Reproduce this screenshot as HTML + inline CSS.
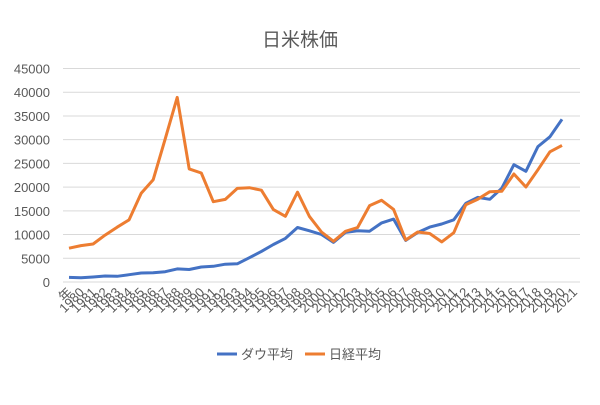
<!DOCTYPE html>
<html><head><meta charset="utf-8"><style>
body{margin:0;background:#fff;}
svg text{font-family:"Liberation Sans","Noto Sans CJK JP",sans-serif;fill:#595959;}
</style></head><body>
<svg width="600" height="400" xmlns="http://www.w3.org/2000/svg">
<rect width="600" height="400" fill="#fff"/>
<text x="300" y="46" font-size="19" text-anchor="middle">日米株価</text>
<g id="grid" stroke="#d9d9d9" stroke-width="1"></g>
<g id="yl" font-size="13"></g>
<g id="xl" font-size="13"></g>
<polyline id="dow" fill="none" stroke="#4472c4" stroke-width="3" stroke-linejoin="round"/>
<polyline id="nk" fill="none" stroke="#ed7d31" stroke-width="3" stroke-linejoin="round"/>
<line x1="217" y1="354" x2="237" y2="354" stroke="#4472c4" stroke-width="3"/>
<text x="241" y="359" font-size="13">ダウ平均</text>
<line x1="305" y1="354" x2="325" y2="354" stroke="#ed7d31" stroke-width="3"/>
<text x="329" y="359" font-size="13">日経平均</text>
</svg>
<script>
var ns="http://www.w3.org/2000/svg";
function el(t,a,p,txt){var e=document.createElementNS(ns,t);for(var k in a)e.setAttribute(k,a[k]);if(txt)e.textContent=txt;document.getElementById(p).appendChild(e);}
var y0=282,st=23.72,x0=63,x1=580,n=43,w=(x1-x0)/n;
for(var i=0;i<=9;i++){var y=y0-i*st;el('line',{x1:x0,x2:x1,y1:y,y2:y},'grid');el('text',{x:50,y:y+5,'text-anchor':'end'},'yl',String(i*5000));}
var labs=['年'];for(var yr=1980;yr<=2021;yr++)labs.push(String(yr));
labs.forEach(function(l,i){var x=x0+w*(i+0.5)+4,y=293;el('text',{x:x,y:y,'text-anchor':'end',transform:'rotate(-45 '+x+' '+y+')'},'xl',l);});
var dow=[964,875,1047,1259,1212,1547,1896,1939,2169,2753,2634,3169,3301,3754,3834,5117,6448,7908,9181,11497,10787,10022,8342,10454,10783,10718,12463,13265,8776,10428,11578,12218,13104,16577,17823,17425,19763,24719,23327,28538,30606,34300];
var nk=[7116,7682,8017,9894,11543,13113,18701,21564,30159,38916,23849,22984,16925,17417,19723,19868,19361,15259,13842,18934,13786,10543,8579,10677,11489,16111,17226,15308,8860,10546,10229,8455,10395,16291,17451,19034,19114,22765,20015,23657,27444,28791];
function pts(a){return a.map(function(v,i){return (x0+w*(i+0.5)).toFixed(1)+','+(y0-v/5000*st).toFixed(1);}).join(' ');}
document.getElementById('dow').setAttribute('points',pts(dow));
document.getElementById('nk').setAttribute('points',pts(nk));
</script>
</body></html>
